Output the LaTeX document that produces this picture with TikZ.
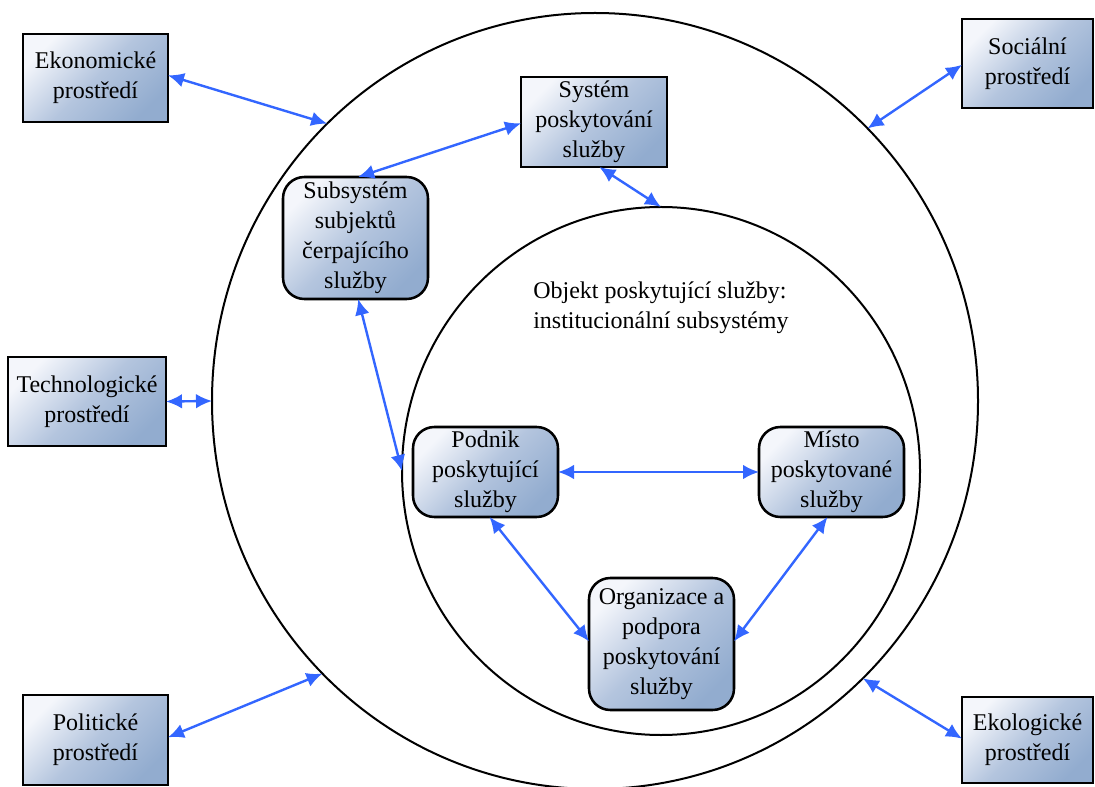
\documentclass[tikz,border=0pt]{standalone}
\usepackage{fontspec}
\setmainfont{Liberation Serif}
\usetikzlibrary{arrows.meta,shapes.geometric}
\definecolor{arrowblue}{HTML}{3366FF}
\definecolor{boxlight}{HTML}{F4F6FB}
\definecolor{boxmid}{HTML}{B4C5DE}
\definecolor{boxdark}{HTML}{92ACCF}
\tikzset{
  envbox/.style={draw=black, line width=1.9pt, inner sep=0pt, outer sep=0pt,
    top color=boxlight, bottom color=boxdark, middle color=boxmid, shading angle=45,
    align=center, font=\fontsize{18}{22.5}\selectfont},
  roundbox/.style={envbox, rounded corners=16pt},
  ring/.style={draw=black, line width=1.5pt, ellipse, inner sep=0pt, outer sep=0pt},
  link/.style={draw=arrowblue, line width=1.8pt,
    {Latex[length=12pt,width=11pt]}-{Latex[length=12pt,width=11pt]}},
  plain/.style={align=left, font=\fontsize{18}{22.5}\selectfont, inner sep=0pt}
}
\begin{document}
\begin{tikzpicture}[x=0.75pt,y=-0.75pt]
\useasboundingbox (0,0) rectangle (1095,787);
% rings
\node[ring, minimum width=766*0.75pt, minimum height=776*0.75pt] (outer) at (595,401) {};
\node[ring, minimum width=518*0.75pt, minimum height=528*0.75pt] (inner) at (661,471) {};
% environment boxes
\node[envbox, minimum width=145*0.75pt, minimum height=88*0.75pt] (eko) at (95.5,78) {Ekonomické\\prostředí};
\node[envbox, minimum width=131*0.75pt, minimum height=89*0.75pt] (soc) at (1027.5,63.5) {Sociální\\prostředí};
\node[envbox, minimum width=158*0.75pt, minimum height=89*0.75pt] (tech) at (87,401.5) {Technologické\\prostředí};
\node[envbox, minimum width=145*0.75pt, minimum height=90*0.75pt] (pol) at (95.5,740) {Politické\\prostředí};
\node[envbox, minimum width=131*0.75pt, minimum height=86*0.75pt] (eco) at (1027.5,740) {Ekologické\\prostředí};
% inner boxes
\node[envbox, minimum width=146*0.75pt, minimum height=90*0.75pt] (sys) at (594,122) {Systém\\poskytování\\služby};
\node[roundbox, minimum width=145*0.75pt, minimum height=122*0.75pt] (sub) at (355.5,238) {Subsystém\\subjektů\\čerpajícího\\služby};
\node[roundbox, minimum width=145*0.75pt, minimum height=90*0.75pt] (pod) at (485.5,472) {Podnik\\poskytující\\služby};
\node[roundbox, minimum width=145*0.75pt, minimum height=90*0.75pt] (mis) at (831.5,472) {Místo\\poskytované\\služby};
\node[roundbox, minimum width=145*0.75pt, minimum height=132*0.75pt] (org) at (661.5,644) {Organizace a\\podpora\\poskytování\\služby};
\node[plain, anchor=west] (obj) at (533,308) {Objekt poskytující služby:\\institucionální subsystémy};
% connectors
\draw[link] ([yshift=2pt]eko.east) -- (outer.134.7);
\draw[link] ([yshift=-1pt]soc.west) -- (outer.45.6);
\draw[link] (tech.east) -- (outer.180);
\draw[link] ([yshift=2pt]pol.east) -- (outer.225.4);
\draw[link] ([yshift=1pt]eco.west) -- (outer.314.5);
\draw[link] ([yshift=-1pt]sys.west) -- ([xshift=2pt]sub.north);
\draw[link] ([xshift=4pt]sys.south) -- (inner.90.6);
\draw[link] ([xshift=2pt]sub.south) -- (inner.180);
\draw[link] (pod.east) -- (mis.west);
\draw[link] ([xshift=3pt]pod.south) -- ([yshift=2pt]org.west);
\draw[link] ([xshift=-3pt]mis.south) -- ([yshift=2pt]org.east);
\end{tikzpicture}
\end{document}
